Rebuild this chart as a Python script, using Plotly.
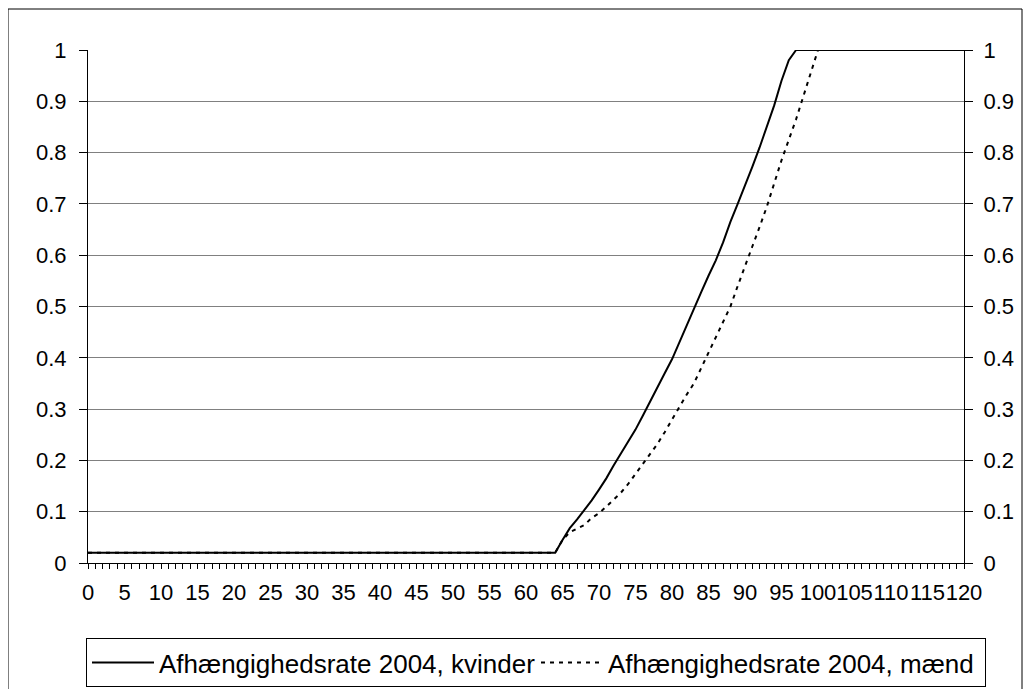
import plotly.graph_objects as go

ages = list(range(0, 121))

# Afhængighedsrate 2004, kvinder (ages 65..97; flat 0.02 below, 1.0 above)
kvinder_65_97 = [0.045, 0.068, 0.085, 0.103, 0.122, 0.143, 0.165, 0.19, 0.213, 0.235,
                 0.26, 0.287, 0.315, 0.345, 0.37, 0.397, 0.43, 0.465, 0.497, 0.528,
                 0.56, 0.59, 0.625, 0.665, 0.70, 0.735, 0.772, 0.81, 0.852, 0.892,
                 0.94, 0.98, 1.0]
# Afhængighedsrate 2004, mænd (ages 65..100)
maend_65_100 = [0.045, 0.06, 0.067, 0.074, 0.088, 0.097, 0.11, 0.123, 0.137, 0.154,
                0.173, 0.193, 0.211, 0.232, 0.255, 0.28, 0.305, 0.328, 0.35, 0.38,
                0.41, 0.44, 0.47, 0.50, 0.54, 0.58, 0.617, 0.655, 0.695, 0.74,
                0.785, 0.825, 0.865, 0.91, 0.955, 1.0]

kvinder = [0.02] * 65 + kvinder_65_97 + [1.0] * (121 - 65 - len(kvinder_65_97))
maend = [0.02] * 65 + maend_65_100 + [1.0] * (121 - 65 - len(maend_65_100))

x_tickvals = list(range(0, 121, 5))
x_ticktext = [str(v) for v in x_tickvals]
y_tickvals = [i / 10 for i in range(11)]
y_ticktext = ["0", "0.1", "0.2", "0.3", "0.4", "0.5", "0.6", "0.7", "0.8", "0.9", "1"]

names = ["Afhængighedsrate 2004, kvinder", "Afhængighedsrate 2004, mænd"]

FONT = "Liberation Sans, Arial, sans-serif"

fig = go.Figure()
fig.add_trace(go.Scatter(x=ages, y=kvinder, mode="lines", name=names[0],
                         line=dict(color="black", width=2), yaxis="y"))
fig.add_trace(go.Scatter(x=ages, y=maend, mode="lines", name=names[1],
                         line=dict(color="black", width=2, dash="4px,5px"), yaxis="y2"))

W, H = 1031, 689
OFF = 8  # page body margin
# desired plot area in page pixels: x 88..964, y 50..563
L, T = 88 - OFF, 50 - OFF
R = W - (964 - OFF)
B = H - (563 - OFF)
pw, ph = W - L - R, H - T - B

def px(xp):  # page x -> paper
    return (xp - OFF - L) / pw

def py(yp):  # page y -> paper
    return (H - B - (yp - OFF)) / ph

axis_font = dict(family=FONT, size=22, color="black")

fig.update_layout(
    width=W, height=H,
    margin=dict(l=L, r=R, t=T, b=B, autoexpand=False),
    paper_bgcolor="white", plot_bgcolor="white",
    font=dict(family=FONT, size=22, color="black"),
    xaxis=dict(range=[0, 120], tickmode="array", tickvals=x_tickvals, ticktext=x_ticktext,
               tickangle=0, ticks="outside", ticklen=5, tickcolor="black",
               minor=dict(dtick=1, tick0=0, ticks="outside", ticklen=5, tickcolor="black"),
               showgrid=False, zeroline=False, showline=True, linecolor="black", linewidth=1,
               tickfont=axis_font, ticklabelstandoff=5),
    yaxis=dict(range=[0, 1], tickmode="array", tickvals=y_tickvals, ticktext=y_ticktext,
               ticks="outside", ticklen=8, tickcolor="black",
               showgrid=True, gridcolor="#808080", gridwidth=1,
               zeroline=False, showline=True, linecolor="black", linewidth=1,
               tickfont=axis_font, ticklabelstandoff=8),
    yaxis2=dict(range=[0, 1], tickmode="array", tickvals=y_tickvals, ticktext=y_ticktext,
                overlaying="y", side="right",
                ticks="outside", ticklen=8, tickcolor="black",
                showgrid=False, zeroline=False, showline=True, linecolor="black", linewidth=1,
                tickfont=axis_font, ticklabelstandoff=6),
    legend=dict(orientation="h", x=px(986), xanchor="right", y=py(638), yanchor="top",
                bordercolor="black", borderwidth=1, bgcolor="white",
                font=dict(family=FONT, size=26), itemwidth=62, traceorder="normal",
                entrywidth=372, entrywidthmode="pixels"),
    shapes=[dict(type="rect", xref="paper", yref="paper",
                 x0=px(8), x1=px(1022), y0=py(700), y1=py(9),
                 line=dict(color="black", width=1), fillcolor="rgba(0,0,0,0)", layer="below")],
    showlegend=True,
)

fig.write_html("out.html")
